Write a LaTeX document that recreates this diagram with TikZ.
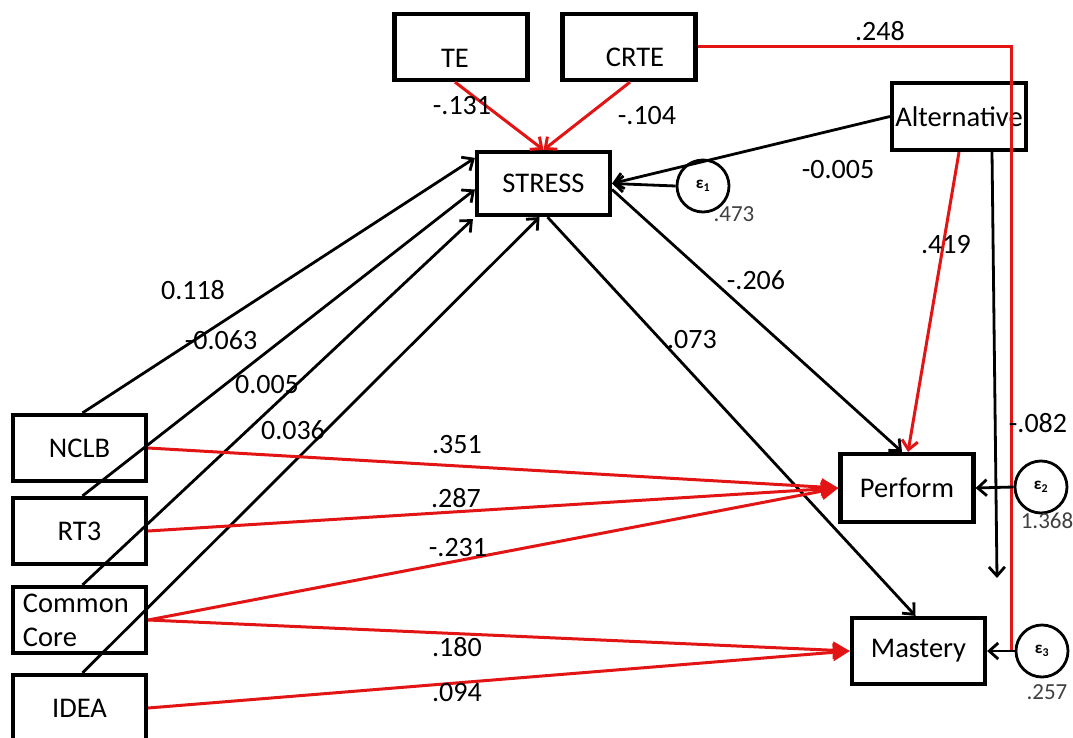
\documentclass[tikz,border=0pt]{standalone}
\usepackage{fontspec}
\setmainfont{Carlito}
\usetikzlibrary{arrows.meta}
\definecolor{pathred}{RGB}{226,20,20}
\begin{document}
\begin{tikzpicture}[x=1pt,y=-1pt,
  box/.style={draw,line width=4.2pt,fill=white,inner sep=0pt,
    minimum width=133pt,minimum height=66pt,font=\fontsize{28.5}{32}\selectfont},
  err/.style={draw,circle,line width=2.8pt,minimum size=52pt,inner sep=0pt,
    fill=white,font=\fontsize{17}{19}\selectfont\bfseries},
  txt/.style={inner sep=0pt,font=\fontsize{28.5}{32}\selectfont},
  coef/.style={inner sep=0pt,font=\fontsize{28}{32}\selectfont},
  resid/.style={inner sep=0pt,font=\fontsize{23}{27}\selectfont,text=black!75},
  blk/.style={line width=2.8pt,-{Straight Barb[length=9pt,width=16pt,line width=2.8pt]}},
  redbarb/.style={pathred,line width=3pt,-{Straight Barb[length=9pt,width=16pt,line width=3pt]}},
  redfill/.style={pathred,line width=3pt,-{Triangle[length=17pt,width=17pt]}},
]
\useasboundingbox (0,0) rectangle (1073,738);

% ---- boxes ----
\node[box] (te)   at (461,47) {};
\node[txt] (te-t) at (455,58) {TE};
\node[box] (crte) at (629,47) {};
\node[txt] (crte-t) at (635,57) {CRTE};
\node[box,minimum height=63pt] (stress) at (543.5,183.5) {STRESS};
\node[box,minimum width=134pt,minimum height=67pt] (alt) at (959,116.5) {Alternative};
\node[box,minimum height=68pt] (perform) at (907,488) {Perform};
\node[box] (mastery) at (918.5,651) {Mastery};

\node[box] (nclb) at (79.5,448) {NCLB};
\node[box] (rt3)  at (79.5,531) {RT3};
\node[box,align=left,text width=113pt,font=\fontsize{28.5}{34}\selectfont] (cc) at (79.5,620) {Common\\Core};
\node[box] (idea) at (79.5,708) {IDEA};

% ---- error terms ----
\node[err] (e1) at (703,186) {ε\textsubscript{1}};
\node[err] (e2) at (1041,487) {ε\textsubscript{2}};
\node[err] (e3) at (1042,651) {ε\textsubscript{3}};
\node[resid] (v1) at (734,214) {.473};
\node[resid] (v2) at (1047,521) {1.368};
\node[resid] (v3) at (1047,692) {.257};

% ---- paths into STRESS ----
\draw[redbarb] ([xshift=-6pt]te.south) -- (stress.north);
\draw[redbarb] ([xshift=1pt]crte.south) -- (stress.north);
\draw[blk] ([xshift=3pt]nclb.north) -- ([yshift=-8pt]stress.north west);
\draw[blk] ([xshift=3pt]rt3.north) -- ([yshift=-6pt]stress.west);
\draw[blk] ([xshift=3pt]cc.north) -- ([xshift=-2pt,yshift=-2pt]stress.south west);
\draw[blk] ([xshift=3pt]idea.north) -- ([xshift=-4pt]stress.south);
\draw[blk] (alt.west) -- (stress.east);
\draw[blk] (e1.west) -- (stress.east);

% ---- paths out of STRESS ----
\draw[blk] ([yshift=-6pt]stress.east) -- ([xshift=-5pt]perform.north);
\draw[blk] ([xshift=4pt]stress.south) -- ([xshift=-3pt]mastery.north);

% ---- Alternative ----
\draw[redbarb] (alt.south) -- ([xshift=1pt]perform.north);
\coordinate (altend) at (997,578);
\draw[blk] ([xshift=33pt]alt.south) -- (altend);

% ---- paths into Perform and Mastery ----
\draw[redfill] (nclb.east) -- (perform.west);
\draw[redfill] (rt3.east) -- (perform.west);
\draw[redfill] (cc.east) -- (perform.west);
\draw[redfill] (cc.east) -- (mastery.west);
\draw[redfill] (idea.east) -- (mastery.west);

% ---- CRTE to Mastery ----
\draw[pathred,line width=3pt] (crte.east) -| ([xshift=-3pt]e3.west);
\draw[blk] (e2.west) -- (perform.east);
\draw[blk] (e3.west) -- (mastery.east);

% ---- coefficients ----
\node[coef] (c-te)   at (462,106) {-.131};
\node[coef] (c-crte) at (647,116) {-.104};
\node[coef] (c-cm)   at (880,31)  {.248};
\node[coef] (c-as)   at (838,170) {-0.005};
\node[coef] (c-ap)   at (946,245) {.419};
\node[coef] (c-sp)   at (756,280) {-.206};
\node[coef] (c-sm)   at (692,340) {.073};
\node[coef] (c-ns)   at (193,290) {0.118};
\node[coef] (c-rs)   at (221,340) {-0.063};
\node[coef] (c-cs)   at (267,385) {0.005};
\node[coef] (c-is)   at (293,430) {0.036};
\node[coef] (c-np)   at (457,445) {.351};
\node[coef] (c-rp)   at (456,498) {.287};
\node[coef] (c-cp)   at (458,548) {-.231};
\node[coef] (c-cmm)  at (457,647) {.180};
\node[coef] (c-im)   at (457,693) {.094};
\node[coef] (c-am)   at (1038,423) {-.082};
\end{tikzpicture}
\end{document}
